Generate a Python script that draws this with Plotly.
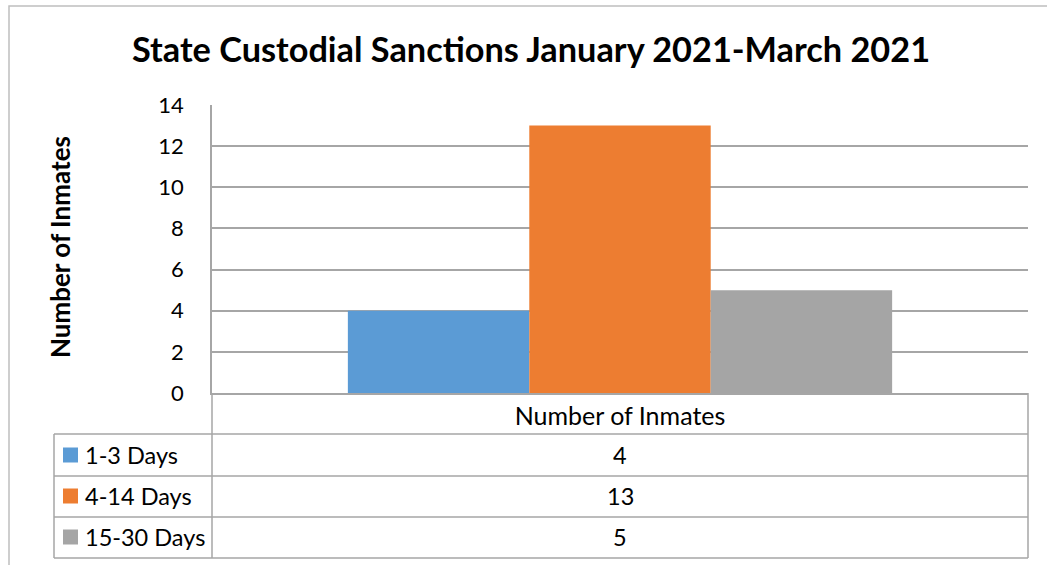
import plotly.graph_objects as go

categories = ["Number of Inmates"]
series_names = ["1-3 Days", "4-14 Days", "15-30 Days"]
series_values = [4, 13, 5]
series_colors = ["#5B9BD5", "#ED7D31", "#A5A5A5"]
y_ticks = [0, 2, 4, 6, 8, 10, 12, 14]

W, H = 1047, 565
L, R, T, B = 212, 1028, 105, 393
FONT = "Lato"
GRID = "#A6A6A6"


def px(x):
    return (x - L) / (R - L)


def py(y):
    return (B - y) / (B - T)


fig = go.Figure()
for name, val, col in zip(series_names, series_values, series_colors):
    fig.add_trace(go.Bar(x=categories, y=[val], name=name, marker_color=col,
                         marker_line_width=0, showlegend=False, hoverinfo="skip"))

shapes = []
# outer chart border
shapes.append(dict(type="rect", xref="paper", yref="paper",
                   x0=px(9), x1=px(1070), y0=py(6), y1=py(600),
                   line=dict(color="#BFBFBF", width=1.5), layer="below"))
# data table lines
row_lines = [434, 476, 517, 558]
for yy in row_lines:
    shapes.append(dict(type="line", xref="paper", yref="paper",
                       x0=px(54), x1=px(R), y0=py(yy), y1=py(yy),
                       line=dict(color=GRID, width=1.5)))
shapes.append(dict(type="line", xref="paper", yref="paper",
                   x0=px(54), x1=px(54), y0=py(434), y1=py(558),
                   line=dict(color=GRID, width=1.5)))
for xx in (L, R):
    shapes.append(dict(type="line", xref="paper", yref="paper",
                       x0=px(xx), x1=px(xx), y0=py(B), y1=py(558),
                       line=dict(color=GRID, width=1.5)))

annotations = []
row_centers = [455, 496, 537]
for name, val, col, yc in zip(series_names, series_values, series_colors, row_centers):
    shapes.append(dict(type="rect", xref="paper", yref="paper",
                       x0=px(63), x1=px(78), y0=py(yc - 7.5), y1=py(yc + 7.5),
                       fillcolor=col, line=dict(width=0)))
    annotations.append(dict(text=name, xref="paper", yref="paper",
                            x=px(83), y=py(yc), xanchor="left", yanchor="middle",
                            showarrow=False, font=dict(family=FONT, size=23.5, color="#000")))
    annotations.append(dict(text=str(val), xref="x", yref="paper",
                            x=categories[0], y=py(yc), xanchor="center", yanchor="middle",
                            showarrow=False, font=dict(family=FONT, size=23.5, color="#000")))

annotations.append(dict(text="<b>Number of Inmates</b>", xref="paper", yref="paper",
                        x=px(60), y=py(247), textangle=-90, xanchor="center", yanchor="middle",
                        showarrow=False, font=dict(family=FONT, size=26, color="#000")))

fig.update_layout(
    width=W, height=H,
    margin=dict(l=L, r=W - R, t=T, b=H - B, pad=0),
    paper_bgcolor="white", plot_bgcolor="white",
    barmode="group", bargap=0.333, bargroupgap=0,
    hovermode=False,
    title=dict(text="<b>State Custodial Sanctions January 2021-March 2021</b>",
               x=531 / W, xanchor="center", y=1 - 50 / H, yanchor="middle",
               font=dict(family=FONT, size=34.3, color="#000")),
    font=dict(family=FONT, size=23, color="#000"),
    xaxis=dict(showline=True, linecolor=GRID, linewidth=1.5, ticks="", showgrid=False,
               tickfont=dict(family=FONT, size=25, color="#000"), ticklabelstandoff=0),
    yaxis=dict(range=[0, 14], tickvals=y_ticks, showgrid=True, gridcolor=GRID, gridwidth=1.5,
               showline=True, linecolor=GRID, linewidth=1.5, ticks="", zeroline=False,
               tickfont=dict(family=FONT, size=22, color="#000"), ticklabelstandoff=22),
    shapes=shapes, annotations=annotations,
)

fig.write_html("out.html", config={"displayModeBar": False},
               post_script="document.body.style.margin='0';")
